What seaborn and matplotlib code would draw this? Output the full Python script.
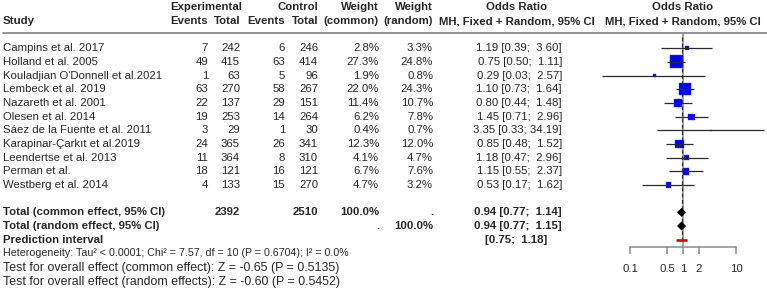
import numpy as np
import pandas as pd
import matplotlib
matplotlib.use("Agg")
import matplotlib.pyplot as plt
import seaborn as sns

# -------------------------
# Data
# -------------------------
studies = ["Campins et al. 2017", "Holland et al. 2005", "Kouladjian O'Donnell et al.2021",
           "Lembeck et al. 2019", "Nazareth et al. 2001", "Olesen et al. 2014",
           "Sáez de la Fuente et al. 2011", "Karapinar-Çarkıt et al.2019",
           "Leendertse et al. 2013", "Perman et al.", "Westberg et al. 2014"]
exp_events = [7, 49, 1, 63, 22, 19, 3, 24, 11, 18, 4]
exp_total = [242, 415, 63, 270, 137, 253, 29, 365, 364, 121, 133]
ctrl_events = [6, 63, 5, 58, 29, 14, 1, 26, 8, 16, 15]
ctrl_total = [246, 414, 96, 267, 151, 264, 30, 341, 310, 121, 270]
w_common = [2.8, 27.3, 1.9, 22.0, 11.4, 6.2, 0.4, 12.3, 4.1, 6.7, 4.7]
w_random = [3.3, 24.8, 0.8, 24.3, 10.7, 7.8, 0.7, 12.0, 4.7, 7.6, 3.2]
odds = [1.19, 0.75, 0.29, 1.10, 0.80, 1.45, 3.35, 0.85, 1.18, 1.15, 0.53]
ci_lo = [0.39, 0.50, 0.03, 0.73, 0.44, 0.71, 0.33, 0.48, 0.47, 0.55, 0.17]
ci_hi = [3.60, 1.11, 2.57, 1.64, 1.48, 2.96, 34.19, 1.52, 2.96, 2.37, 1.62]

total_exp = 2392
total_ctrl = 2510
common_est = [0.94, 0.77, 1.14]
random_est = [0.94, 0.77, 1.15]
pred_int = [0.75, 1.18]
axis_ticks = [0.1, 0.5, 1, 2, 10]
tick_labels = ["0.1", "0.5", "1", "2", "10"]

het_text = "Heterogeneity: Tau² < 0.0001; Chi² = 7.57, df = 10 (P = 0.6704); I² = 0.0%"
test_texts = ["Test for overall effect (common effect): Z = -0.65 (P = 0.5135)",
              "Test for overall effect (random effects): Z = -0.60 (P = 0.5452)"]

df = pd.DataFrame({"study": studies, "or": odds, "lo": ci_lo, "hi": ci_hi,
                   "w": w_common, "row": np.arange(len(studies))})

# -------------------------
# Style
# -------------------------
sns.set_style("white")
plt.rcParams["font.family"] = ["Liberation Sans", "DejaVu Sans"]
FS = 8.2
GRAY = "#8a8a8a"

fig = plt.figure(figsize=(7.67, 2.89), dpi=100)

# text layer in pixel coordinates
tx = fig.add_axes([0, 0, 1, 1])
tx.set_xlim(0, 767)
tx.set_ylim(289, 0)
tx.axis("off")

y0, dy = 48.3, 13.67
def row_y(r):
    return y0 + dy * r

h1, h2 = 7.5, 21.5
def put(x, y, s, ha="right", bold=False, size=FS):
    tx.text(x, y, s, ha=ha, va="center", fontsize=size,
            fontweight="bold" if bold else "normal")

# headers
put(242, h1, "Experimental", bold=True)
put(318, h1, "Control", bold=True)
put(379, h1, "Weight", bold=True)
put(433, h1, "Weight", bold=True)
put(517, h1, "Odds Ratio", ha="center", bold=True)
put(683, h1, "Odds Ratio", ha="center", bold=True)
put(3, h2, "Study", ha="left", bold=True)
put(208, h2, "Events", bold=True)
put(240, h2, "Total", bold=True)
put(285, h2, "Events", bold=True)
put(318, h2, "Total", bold=True)
put(379, h2, "(common)", bold=True)
put(433, h2, "(random)", bold=True)
put(517, h2, "MH, Fixed + Random, 95% CI", ha="center", bold=True)
put(683, h2, "MH, Fixed + Random, 95% CI", ha="center", bold=True)
tx.plot([3, 767], [33, 33], color=GRAY, lw=1.3)

# study rows
for i in range(len(studies)):
    y = row_y(i)
    put(3, y, studies[i], ha="left")
    put(208, y, str(exp_events[i]))
    put(240, y, str(exp_total[i]))
    put(285, y, str(ctrl_events[i]))
    put(318, y, str(ctrl_total[i]))
    put(379, y, f"{w_common[i]:.1f}%")
    put(433, y, f"{w_random[i]:.1f}%")
    put(562, y, f"{odds[i]:.2f} [{ci_lo[i]:.2f}; {ci_hi[i]:5.2f}]")

# totals
yc, yr, yp = row_y(12), row_y(13), row_y(14)
put(3, yc, "Total (common effect, 95% CI)", ha="left", bold=True)
put(240, yc, str(total_exp), bold=True)
put(318, yc, str(total_ctrl), bold=True)
put(379, yc, "100.0%", bold=True)
put(433, yc, ".", bold=True)
put(562, yc, f"{common_est[0]:.2f} [{common_est[1]:.2f}; {common_est[2]:5.2f}]", bold=True)
put(3, yr, "Total (random effect, 95% CI)", ha="left", bold=True)
put(379, yr, ".", bold=True)
put(433, yr, "100.0%", bold=True)
put(562, yr, f"{random_est[0]:.2f} [{random_est[1]:.2f}; {random_est[2]:5.2f}]", bold=True)
put(3, yp, "Prediction interval", ha="left", bold=True)
put(547, yp, f"[{pred_int[0]:.2f}; {pred_int[1]:5.2f}]", bold=True)

put(3, 253.3, het_text, ha="left", size=7.7)
put(3, 268, test_texts[0], ha="left", size=8.9)
put(3, 282.5, test_texts[1], ha="left", size=8.9)

# -------------------------
# Forest panel
# -------------------------
ax = fig.add_axes([600 / 767, (289 - 247) / 289, 167 / 767, 214 / 289])
ax.set_facecolor("none")
ax.set_xscale("log")
ax.set_xlim(10 ** -1.566, 10 ** 1.585)
ax.set_ylim((247 - y0) / dy, (33 - y0) / dy)

ax.axvline(1, color=GRAY, lw=1.1, zorder=1)
ax.plot([common_est[0]] * 2, [-0.8, 14.0], color="#333333", lw=0.9,
        dashes=(3, 2), zorder=1)

sns.scatterplot(data=df, x="or", y="row", size="w", sizes=(0, 88),
                size_norm=(0, 27.3), marker="s", color="#0000ff",
                edgecolor="#3a3aff", linewidth=0.3, legend=False, ax=ax, zorder=3)
ax.hlines(df["row"], df["lo"], df["hi"], color="#2a2a2a", lw=0.9, zorder=4)

for r, (est, lo, hi) in zip([12, 13], [common_est, random_est]):
    ax.fill([lo, est, hi, est], [r, r - 0.33, r, r + 0.33], color="black",
            lw=0, zorder=3)
ax.hlines(14, pred_int[0], pred_int[1], color="#e00000", lw=1.9, zorder=3)

for s in ["top", "right", "left"]:
    ax.spines[s].set_visible(False)
ax.spines["bottom"].set_bounds(axis_ticks[0], axis_ticks[-1])
ax.spines["bottom"].set_color(GRAY)
ax.spines["bottom"].set_linewidth(1.1)
ax.minorticks_off()
ax.set_xticks(axis_ticks)
ax.set_xticklabels(tick_labels)
ax.tick_params(axis="x", direction="out", length=5, width=1.1, color=GRAY,
               labelsize=FS, pad=7, bottom=True)
ax.set_yticks([])
ax.set_xlabel("")
ax.set_ylabel("")

fig.savefig("out.png", dpi=100)
plt.close()
